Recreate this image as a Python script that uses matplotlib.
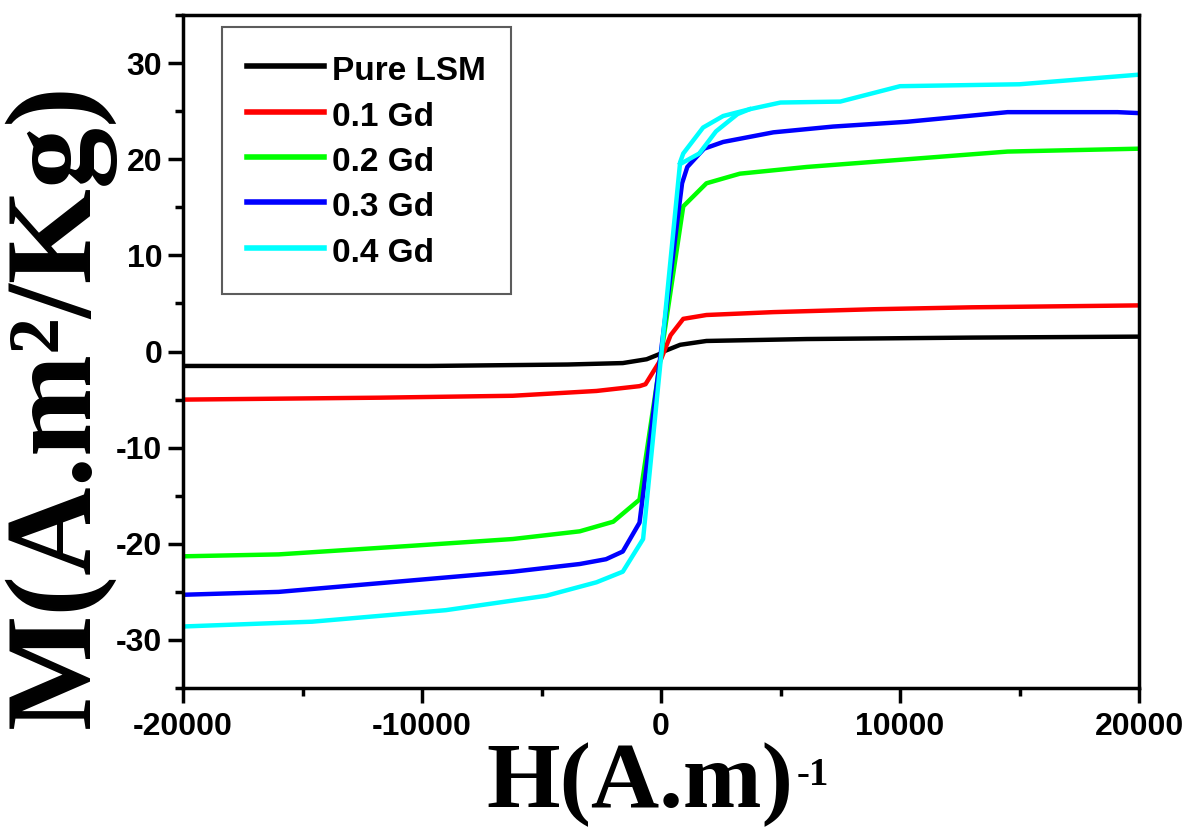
import matplotlib
matplotlib.use('Agg')
import matplotlib.pyplot as plt
from matplotlib.ticker import MultipleLocator

# M-H loops (H in A/m, M in A.m2/kg)
h_lsm = [-20000, -9700, -3900, -1600, -600, 0, 100, 800, 1900, 6100, 13000, 20000]
m_lsm = [-1.5, -1.5, -1.35, -1.2, -0.8, -0.2, 0.0, 0.7, 1.1, 1.3, 1.45, 1.55]

h_01 = [-20000, -11800, -6200, -2700, -900, -650, 0, 400, 930, 1900, 4700, 8900, 13000, 20000]
m_01 = [-5.0, -4.8, -4.6, -4.1, -3.6, -3.4, -0.8, 1.7, 3.4, 3.8, 4.1, 4.4, 4.6, 4.8]

h_02 = [-20000, -16000, -10400, -6200, -3400, -2000, -900, 930, 1900, 3300, 6100, 10300, 14500, 20000]
m_02 = [-21.3, -21.1, -20.2, -19.5, -18.7, -17.7, -15.4, 15.1, 17.5, 18.5, 19.2, 20.0, 20.8, 21.1]

h_03 = [-20000, -16000, -10400, -6200, -3400, -2300, -1600, -900, 880, 1100, 1800, 2600, 4700, 7200, 10300, 14500, 19100, 20000]
m_03 = [-25.3, -25.0, -23.8, -22.9, -22.1, -21.6, -20.8, -17.8, 17.5, 19.2, 21.1, 21.8, 22.8, 23.4, 23.9, 24.9, 24.9, 24.8]

h_04 = [-20000, -14600, -9000, -4800, -2700, -1600, -750, 800, 930, 1760, 2600, 3700, 5000, 7500, 10000, 15000, 20000]
m_04 = [-28.6, -28.1, -26.9, -25.4, -24.0, -22.9, -19.5, 19.7, 20.6, 23.3, 24.5, 25.2, 25.9, 26.0, 27.6, 27.8, 28.8]
# second branch of the 0.4 Gd loop near the knee
h_04b = [800, 1600, 2300, 3200, 3700]
m_04b = [19.5, 20.6, 22.9, 24.7, 25.2]

labels = ['Pure LSM', '0.1 Gd', '0.2 Gd', '0.3 Gd', '0.4 Gd']
colors = ['#000000', '#ff0000', '#00ff00', '#0000ff', '#00ffff']

plt.rcParams['axes.unicode_minus'] = False

fig = plt.figure(figsize=(12.01, 8.36), dpi=100)
ax = fig.add_axes([0.1524, 0.177, 0.796, 0.805])

series = [(h_lsm, m_lsm), (h_01, m_01), (h_02, m_02), (h_03, m_03), (h_04, m_04)]
for (h, m), lab, c in zip(series, labels, colors):
    ax.plot(h, m, color=c, lw=3.2, label=lab, solid_joinstyle='round')
ax.plot(h_04b, m_04b, color=colors[4], lw=3.2, solid_joinstyle='round')

ax.set_xlim(-20000, 20000)
ax.set_ylim(-35, 35)
ax.xaxis.set_major_locator(MultipleLocator(10000))
ax.xaxis.set_minor_locator(MultipleLocator(5000))
ax.yaxis.set_major_locator(MultipleLocator(10))
ax.yaxis.set_minor_locator(MultipleLocator(5))

for s in ax.spines.values():
    s.set_linewidth(2.5)
ax.tick_params(which='major', direction='out', length=11, width=2.5, pad=6)
ax.tick_params(axis='y', which='major', pad=4)
ax.tick_params(which='minor', direction='out', length=6, width=2.5)
for t in ax.get_xticklabels() + ax.get_yticklabels():
    t.set_fontfamily('Liberation Sans')
    t.set_fontweight('bold')
    t.set_fontsize(23)

ax.set_xlabel('H(A.m)', fontfamily='Liberation Serif', fontweight='bold',
              fontsize=68, labelpad=0)
ax.xaxis.label.set_x(0.478)
fig.text(0.663, 0.072, '-1', fontfamily='Liberation Serif', fontweight='bold',
         fontsize=28, ha='left', va='center')
ax.set_ylabel('M(A.m²/Kg)', fontfamily='Liberation Serif', fontweight='bold',
              fontsize=88, labelpad=0)
ax.yaxis.label.set_y(0.42)

leg = ax.legend(loc='upper left', bbox_to_anchor=(0.041, 0.982), borderaxespad=0,
                frameon=True, fancybox=False, handlelength=2.3, handletextpad=0.25,
                handleheight=1.2, labelspacing=0.3, borderpad=0.75,
                prop={'family': 'Liberation Sans', 'weight': 'bold', 'size': 24})
leg.get_frame().set_edgecolor('#333333')
leg.get_frame().set_linewidth(1.5)
for line in leg.get_lines():
    line.set_linewidth(4)

fig.savefig('out.png', dpi=100)
